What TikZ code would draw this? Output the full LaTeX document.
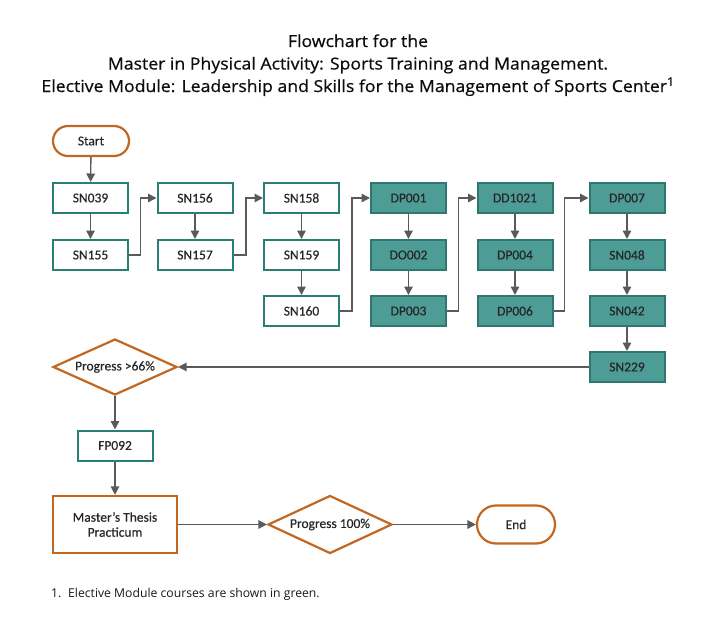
\documentclass[tikz,border=0pt]{standalone}
\usepackage{fontspec}
\setmainfont{Open Sans}
\newfontfamily\ttlf{Open Sans}[FakeStretch=1.07,FakeBold=0.6]
\newfontfamily\calib{Carlito}[FakeBold=0.4]
\usetikzlibrary{arrows.meta,shapes.geometric}
\definecolor{tealline}{HTML}{2A7F74}
\definecolor{tealfill}{HTML}{4E9C96}
\definecolor{tealdark}{HTML}{2F7770}
\definecolor{orng}{HTML}{C3661F}
\definecolor{arr}{HTML}{5A5A5A}
\definecolor{txt}{HTML}{262626}
\begin{document}
\begin{tikzpicture}[x=1pt,y=-1pt,
  box/.style={draw=tealline,line width=2pt,fill=white,minimum width=75pt,minimum height=30pt,inner sep=0pt,font=\calib\fontsize{13.5}{15}\selectfont,text=txt},
  ebox/.style={box,fill=tealfill,draw=tealdark},
  term/.style={draw=orng,line width=2.2pt,inner sep=0pt,font=\calib\fontsize{13.5}{15}\selectfont,text=txt},
  dec/.style={diamond,draw=orng,line width=2.2pt,aspect=2.2,inner sep=0pt,minimum width=124pt,minimum height=56pt,font=\calib\fontsize{13.5}{15}\selectfont,text=txt},
  conn/.style={draw=arr,line width=1.4pt,-{Triangle[length=8.5pt,width=8.5pt]}},
  ttl/.style={font=\ttlf\fontsize{16.5}{20}\selectfont,text=black!95,anchor=base,inner sep=0pt},
  fnote/.style={anchor=base west,inner sep=0pt,font=\fontsize{12.2}{13}\selectfont,text=black!90}]
\useasboundingbox (0,0) rectangle (716,632);
% title
\node[ttl] (t1) at (358,47) {Flowchart for the};
\node[ttl] (t2) at (358,69.5) {Master in Physical Activity: Sports Training and Management.};
\node[ttl] (t3) at (358,92) {Elective Module: Leadership and Skills for the Management of Sports Center\textsuperscript{1}};
% nodes
\node[term,minimum width=76pt,minimum height=30pt,rounded corners=15pt] (start) at (91,141) {Start};
\node[box] (sn039) at (90.5,198) {SN039};
\node[box] (sn155) at (90.5,255) {SN155};
\node[box] (sn156) at (195,198) {SN156};
\node[box] (sn157) at (195,255) {SN157};
\node[box] (sn158) at (301.5,198) {SN158};
\node[box] (sn159) at (301.5,255) {SN159};
\node[box] (sn160) at (301.5,311) {SN160};
\node[ebox] (dp001) at (408.5,198) {DP001};
\node[ebox] (do002) at (408.5,255) {DO002};
\node[ebox] (dp003) at (408.5,311) {DP003};
\node[ebox] (dd1021) at (515,198) {DD1021};
\node[ebox] (dp004) at (515,255) {DP004};
\node[ebox] (dp006) at (515,311) {DP006};
\node[ebox] (dp007) at (627,198) {DP007};
\node[ebox] (sn048) at (627,255) {SN048};
\node[ebox] (sn042) at (627,311) {SN042};
\node[ebox] (sn229) at (627,367) {SN229};
\node[dec] (p66) at (115,367) {Progress >66\%};
\node[box] (fp092) at (115,445.5) {FP092};
\node[box,draw=orng,line width=2.2pt,minimum width=124pt,minimum height=57pt,align=center] (thesis) at (115,524.5) {Master’s Thesis\\Practicum};
\node[dec,minimum height=58pt] (p100) at (330,524.5) {Progress 100\%};
\node[term,minimum width=78pt,minimum height=38pt,rounded corners=19pt] (end) at (516,524.5) {End};
% connectors
\draw[conn] (start) -- (sn039);
\draw[conn] (sn039) -- (sn155);
\draw[conn] (sn155.east) -| ([xshift=-16pt]sn156.west) -- (sn156.west);
\draw[conn] (sn156) -- (sn157);
\draw[conn] (sn157.east) -| ([xshift=-17pt]sn158.west) -- (sn158.west);
\draw[conn] (sn158) -- (sn159);
\draw[conn] (sn159) -- (sn160);
\draw[conn] (sn160.east) -| ([xshift=-18pt]dp001.west) -- (dp001.west);
\draw[conn] (dp001) -- (do002);
\draw[conn] (do002) -- (dp003);
\draw[conn] (dp003.east) -| ([xshift=-18pt]dd1021.west) -- (dd1021.west);
\draw[conn] (dd1021) -- (dp004);
\draw[conn] (dp004) -- (dp006);
\draw[conn] (dp006.east) -| ([xshift=-24pt]dp007.west) -- (dp007.west);
\draw[conn] (dp007) -- (sn048);
\draw[conn] (sn048) -- (sn042);
\draw[conn] (sn042) -- (sn229);
\draw[conn] (sn229.west) -- (p66.east);
\draw[conn] (p66.south) -- (fp092.north);
\draw[conn] (fp092.south) -- (thesis.north);
\draw[conn] (thesis.east) -- (p100.west);
\draw[conn] (p100.east) -- (end.west);
% footnote
\node[fnote] (fn1) at (51,597) {1.};
\node[fnote] (fn2) at (68,597) {Elective Module courses are shown in green.};
\end{tikzpicture}
\end{document}
